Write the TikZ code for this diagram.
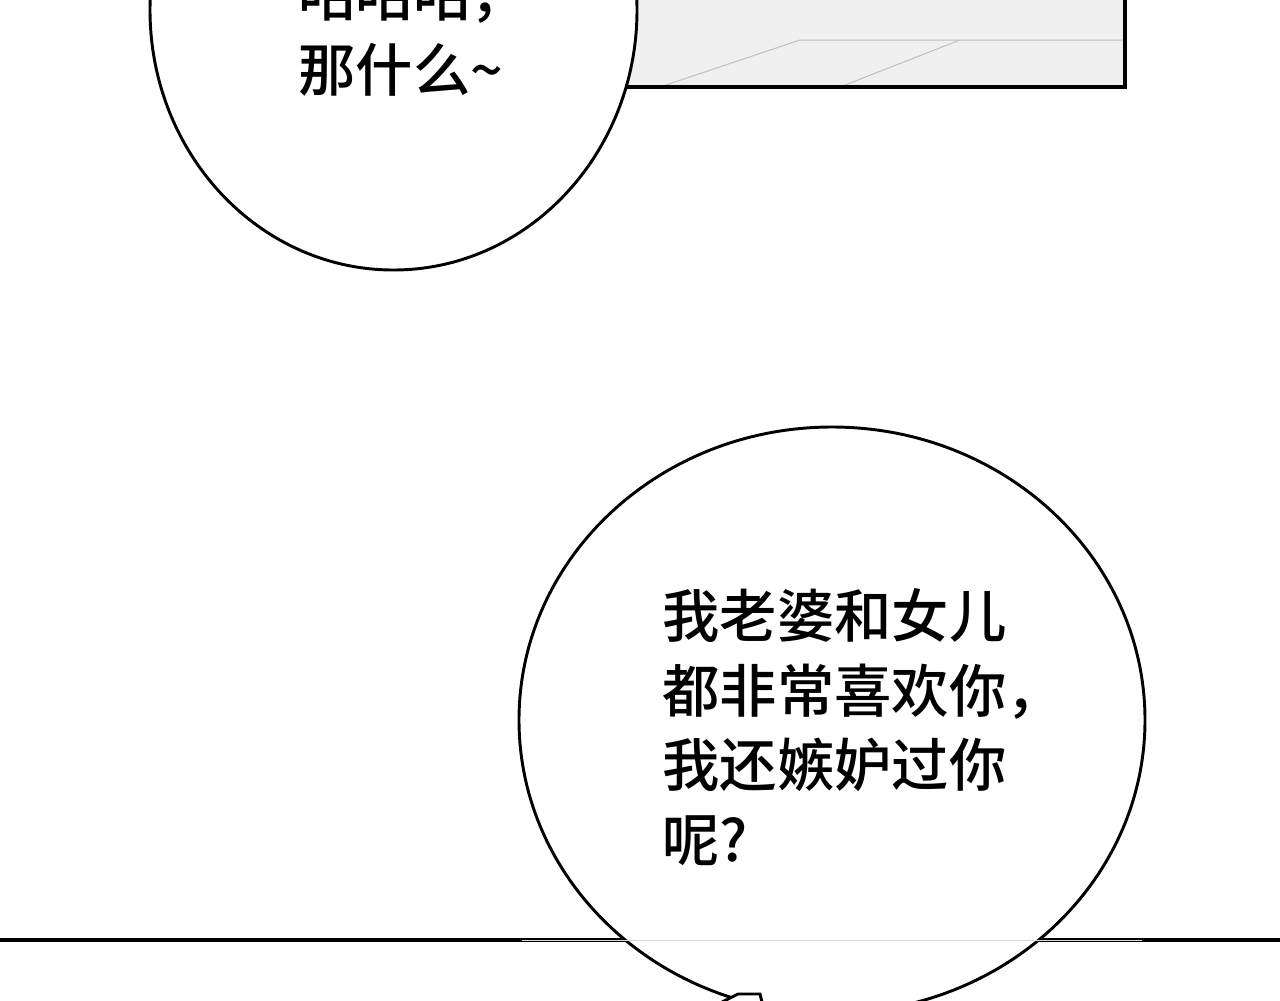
\documentclass[tikz,border=0pt]{standalone}
\usepackage{fontspec}
\newfontfamily\cjk{Noto Sans CJK SC Medium}
\tikzset{every picture/.style={line width=0.75pt}}
\tikzset{bubble/.style={draw=black,line width=2.2pt,fill=white},
  speech/.style={anchor=north west,inner sep=0pt,align=left,font=\cjk\fontsize{43}{56}\selectfont}}
\begin{document}
\begin{tikzpicture}[x=0.75pt,y=0.75pt,yscale=-1,xscale=1]
\useasboundingbox (0,0) rectangle (1280,1000);
\fill[white] (0,0) rectangle (1280,1000);
% top panel
\fill[black!6] (325,0) rectangle (1125,87);
\draw[black!25] (660,87) -- (800,40) -- (1125,40);
\draw[black!25] (840,87) -- (960,40);
\draw[black!30] (325,0) -- (325,87);
\draw[line width=2.4pt] (1125,0) -- (1125,87) -- (325,87);
% bottom panel edge
\draw[line width=2.4pt] (0,940) -- (1280,940);
% top bubble
\draw[bubble] (393.5,10) ellipse [x radius=243.5, y radius=260];
\node[speech] (topline) at (298,-32) {咕咕咕，\\那什么\textasciitilde};
% bottom bubble
\draw[bubble] (832,720) ellipse [x radius=313, y radius=293];
\draw[black!15] (522,940) -- (1142,940);
\draw[line width=2.2pt,fill=white] (722,1002) -- (738,994) -- (760,994) -- (762,1002);
\node[speech] (talk) at (662,588) {我老婆和女儿\\都非常喜欢你，\\我还嫉妒过你\\呢?};
\end{tikzpicture}
\end{document}
